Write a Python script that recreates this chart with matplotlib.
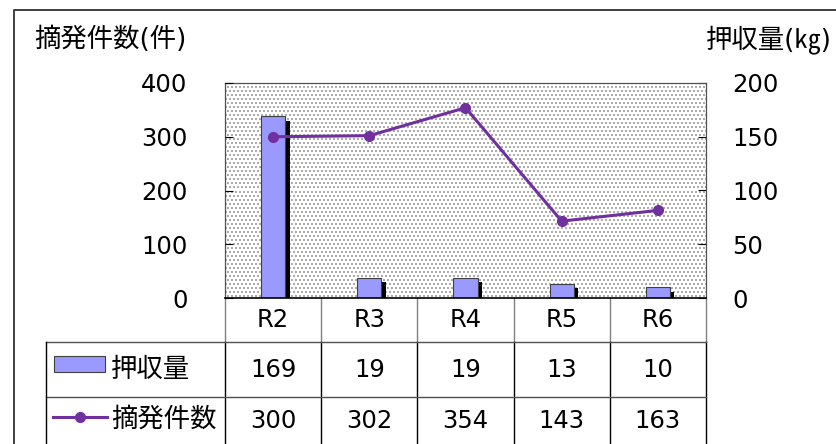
import numpy as np
import matplotlib
matplotlib.use("Agg")
import matplotlib.pyplot as plt  # noqa: E402
from matplotlib import patheffects as pe  # noqa: E402

plt.rcParams["font.family"] = ["DejaVu Sans", "Noto Sans CJK JP"]

# ---- data ----
categories = ["R2", "R3", "R4", "R5", "R6"]
seizure_kg = [169, 19, 19, 13, 10]          # 押収量 (bars, right axis)
cases = [300, 302, 354, 143, 163]           # 摘発件数 (line, left axis)
left_ticks = [0, 100, 200, 300, 400]
right_ticks = [0, 50, 100, 150, 200]
bar_name = "押収量"
line_name = "摘発件数"
left_title = "摘発件数(件)"
right_title = "押収量(㎏)"

W, H = 837, 444
FS = 17.5       # digits / latin
FS_JP = 19      # japanese labels
BAR_COLOR = "#9999FF"
LINE_COLOR = "#7030A0"

# plot area in pixels
PL, PR, PT, PB = 225, 706, 83, 298

fig = plt.figure(figsize=(W / 100, H / 100), dpi=100)
ax = fig.add_axes([PL / W, 1 - PB / H, (PR - PL) / W, (PB - PT) / H])
x = np.arange(len(categories))
ax.set_xlim(-0.5, len(categories) - 0.5)
ax.set_ylim(0, 200)

# dotted background (small grey squares, staggered)
pw, ph = PR - PL, PB - PT
rr, cc = np.mgrid[0:ph, 0:pw]
mask = (rr % 4 < 2) & (((cc + 2 * ((rr // 4) % 2)) % 4) < 2)
bg = np.ones((ph, pw, 3))
bg[mask] = 0.68
ax.imshow(bg, extent=[-0.5, len(categories) - 0.5, 0, 200], aspect="auto",
          interpolation="nearest", zorder=0)

bars = ax.bar(x, seizure_kg, width=0.25, color=BAR_COLOR, edgecolor="#404040",
              linewidth=0.8, zorder=2)
for b in bars:
    b.set_path_effects([pe.SimplePatchShadow(offset=(3.2, -3.2), shadow_rgbFace="k", alpha=1.0),
                        pe.Normal()])

ax2 = ax.twinx()
ax2.set_ylim(0, 400)
ax2.plot(x, cases, color=LINE_COLOR, lw=2.2, marker="o", ms=7, zorder=3)

# host carries the right (kg) scale, twin the left (件) scale
ax.set_xticks([])
ax.yaxis.tick_right()
ax.set_yticks(right_ticks)
ax.tick_params(axis="y", direction="in", length=6, width=0.8, pad=19,
               labelsize=FS, colors="black")
for s in ["top", "left", "right"]:
    ax.spines[s].set_color("#505050")
    ax.spines[s].set_linewidth(0.9)
ax.spines["bottom"].set_color("black")
ax.spines["bottom"].set_linewidth(1.2)

ax2.yaxis.tick_left()
ax2.set_yticks(left_ticks)
ax2.tick_params(axis="y", direction="in", length=6, width=0.8, pad=27,
                labelsize=FS)
ax2.patch.set_visible(False)
for s in ax2.spines.values():
    s.set_visible(False)

# ---- overlay in pixel coordinates: border, titles, data table ----
ov = fig.add_axes([0, 0, 1, 1], zorder=-1)
ov.set_xlim(0, W)
ov.set_ylim(H, 0)
ov.axis("off")

ov.plot([14, 14, W], [H, 10, 10], color="#303030", lw=1.3)
ov.text(34, 40, left_title, fontsize=FS_JP, ha="left", va="center")
ov.text(706, 40, right_title, fontsize=FS_JP, ha="left", va="center")

n = len(categories)
colw = (PR - PL) / n
edges = [PL + i * colw for i in range(n + 1)]
row_cat, row1, row2 = (PB, 342), (342, 397), (397, H)

for e in edges:
    ov.plot([e, e], [PB, row_cat[1]], color="#808080", lw=1.0)
    ov.plot([e, e], [row_cat[1], H], color="black", lw=1.0)
ov.plot([46, PR], [row1[0], row1[0]], color="#505050", lw=1.0)
ov.plot([46, PR], [row2[0], row2[0]], color="#505050", lw=1.0)
ov.plot([46, 46], [row1[0], H], color="black", lw=1.0)

for i, c in enumerate(categories):
    cx = edges[i] + colw / 2
    ov.text(cx, sum(row_cat) / 2, c, fontsize=FS, ha="center", va="center")
    ov.text(cx, sum(row1) / 2, str(seizure_kg[i]), fontsize=FS, ha="center", va="center")
    ov.text(cx, (row2[0] + 444) / 2, str(cases[i]), fontsize=FS, ha="center", va="center")

# legend keys inside the table
ov.add_patch(plt.Rectangle((54, 356), 51, 16, facecolor=BAR_COLOR, edgecolor="#404040", lw=0.8))
ov.text(111, sum(row1) / 2, bar_name, fontsize=FS_JP, ha="left", va="center")
ov.plot([53, 107], [417, 417], color=LINE_COLOR, lw=2.2)
ov.plot([80], [417], color=LINE_COLOR, marker="o", ms=7)
ov.text(111, 420, line_name, fontsize=FS_JP, ha="left", va="center")

fig.savefig("out.png", dpi=100)
